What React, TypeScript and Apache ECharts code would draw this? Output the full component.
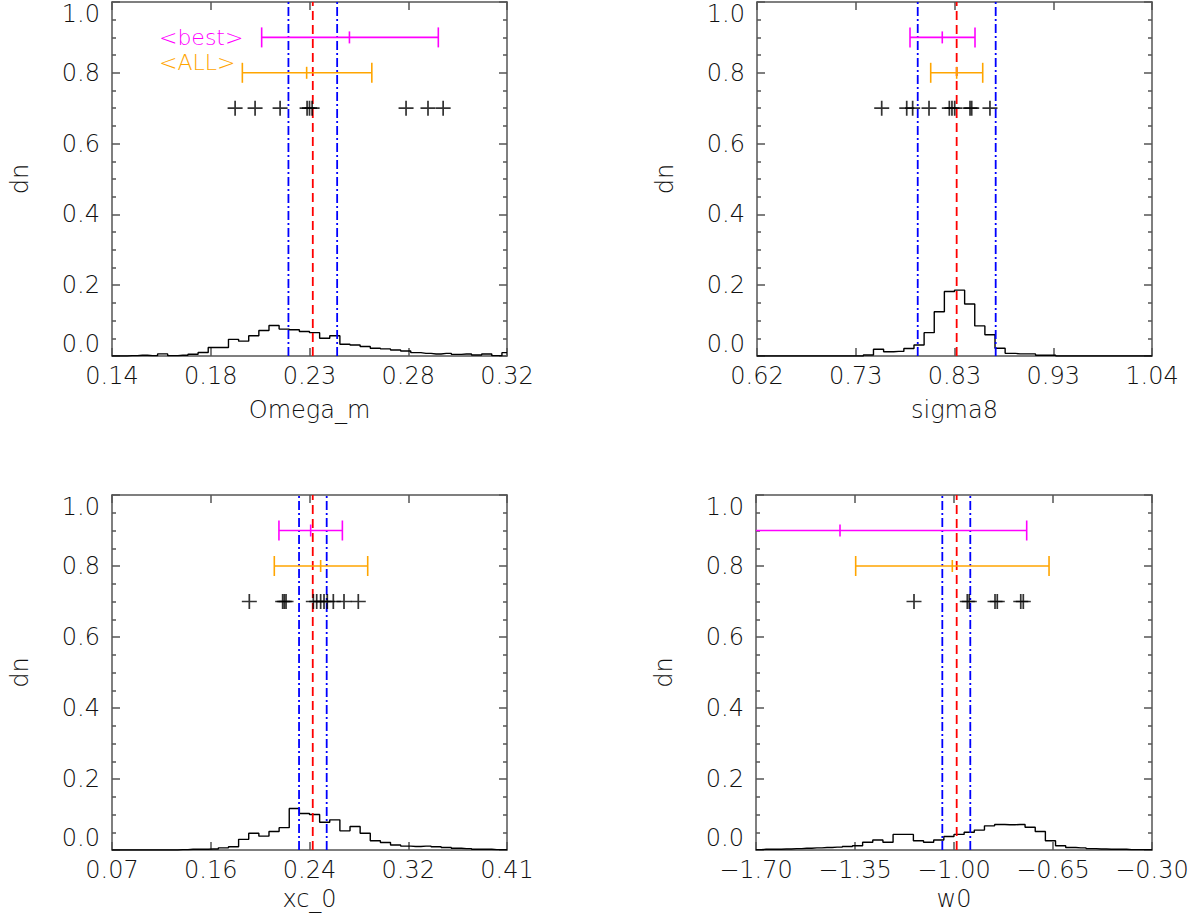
// React and related imports
import { useEffect, useRef } from "react";
// third-party libraries
import * as echarts from "echarts";

// axis ranges and tick labels
const omegaRange = [0.14, 0.32];
const sigma8Range = [0.62, 1.04];
const xc0Range = [0.07, 0.41];
const w0Range = [-1.7, -0.3];

const omegaTicks = ["0.14", "0.18", "0.23", "0.28", "0.32"];
const sigma8Ticks = ["0.62", "0.73", "0.83", "0.93", "1.04"];
const xc0Ticks = ["0.07", "0.16", "0.24", "0.32", "0.41"];
const w0Ticks = ["\u22121.70", "\u22121.35", "\u22121.00", "\u22120.65", "\u22120.30"];

// histograms, 40 bins spread over each axis range
const omegaHist = [
  0, 0, 0.001, 0.002, 0.001, 0.006, 0.001, 0.002, 0.005, 0.01, 0.024, 0.024, 0.047, 0.042,
  0.057, 0.072, 0.086, 0.076, 0.074, 0.069, 0.066, 0.05, 0.057, 0.033, 0.031, 0.027, 0.022,
  0.02, 0.017, 0.014, 0.0094, 0.0075, 0.0056, 0.0075, 0.0047, 0.0056, 0.0028, 0.0056, 0.001,
  0.0094,
];
const sigma8Hist = [
  0, 0, 0, 0, 0, 0, 0, 0, 0, 0, 0, 0.003, 0.019, 0.012, 0.013, 0.021, 0.031, 0.066, 0.125,
  0.182, 0.186, 0.147, 0.085, 0.06, 0.022, 0.0075, 0.006, 0.006, 0.002, 0.002, 0, 0, 0, 0, 0,
  0, 0, 0, 0, 0,
];
const xc0Hist = [
  0, 0, 0, 0, 0, 0, 0, 0.001, 0.002, 0.002, 0.003, 0.006, 0.009, 0.03, 0.047, 0.039, 0.052,
  0.063, 0.117, 0.103, 0.1, 0.078, 0.085, 0.054, 0.066, 0.047, 0.026, 0.021, 0.014, 0.011,
  0.01, 0.011, 0.009, 0.007, 0.005, 0.004, 0.002, 0.002, 0.001, 0.001,
];
const w0Hist = [
  0.001, 0.002, 0.002, 0.003, 0.004, 0.005, 0.006, 0.007, 0.008, 0.01, 0.012, 0.022, 0.028,
  0.022, 0.044, 0.044, 0.026, 0.022, 0.028, 0.038, 0.044, 0.05, 0.056, 0.068, 0.072, 0.071,
  0.072, 0.064, 0.052, 0.026, 0.012, 0.007, 0.006, 0.004, 0.003, 0.002, 0.002, 0.001, 0.001,
  0.001,
];

// individual chains (+ markers at dn = 0.7)
const omegaPlus = [0.1961, 0.2052, 0.2166, 0.2289, 0.23, 0.2312, 0.274, 0.284, 0.2909];
const sigma8Plus = [0.7526, 0.7792, 0.7855, 0.8029, 0.8245, 0.8273, 0.8302, 0.8465, 0.8483, 0.8677];
const xc0Plus = [
  0.1882, 0.2169, 0.2183, 0.2198, 0.2433, 0.2462, 0.2496, 0.2525, 0.2553, 0.2605, 0.2697, 0.282,
];
const w0Plus = [-1.1414, -0.953, -0.946, -0.855, -0.847, -0.764, -0.755];

// error bars: low, mean, high
const omegaBest = [0.2082, 0.2482, 0.2887];
const omegaAll = [0.1994, 0.2287, 0.2584];
const sigma8Best = [0.7827, 0.817, 0.8518];
const sigma8All = [0.8047, 0.8323, 0.86];
const xc0Best = [0.2137, 0.241, 0.2683];
const xc0All = [0.2097, 0.2496, 0.2901];
const w0Best = [-2.063, -1.403, -0.743];
const w0All = [-1.3476, -1.006, -0.664];

// vertical lines: lower 1-sigma, mean, upper 1-sigma
const omegaLines = [0.2204, 0.2315, 0.2426];
const sigma8Lines = [0.7909, 0.8323, 0.8738];
const xc0Lines = [0.231, 0.2428, 0.2548];
const w0Lines = [-1.0413, -0.9905, -0.9424];

const legendLabels = ["<best>", "<ALL>"];

const FONT = '"DejaVu Sans", sans-serif';
const FRAME = "#555";
const MAGENTA = "#ff00ff";
const ORANGE = "#ffa500";
const PLUS = "path://M-0.8,-7H0.8V7H-0.8Z M-7,-0.8H7V0.8H-7Z";

const panels = [
  {
    name: "Omega_m", range: omegaRange, ticks: omegaTicks, hist: omegaHist, plus: omegaPlus,
    best: omegaBest, all: omegaAll, lines: omegaLines, nameGap: 42,
    grid: { left: 112, top: 2, width: 395, height: 354 },
  },
  {
    name: "sigma8", range: sigma8Range, ticks: sigma8Ticks, hist: sigma8Hist, plus: sigma8Plus,
    best: sigma8Best, all: sigma8All, lines: sigma8Lines, nameGap: 42,
    grid: { left: 757, top: 2, width: 395, height: 354 },
  },
  {
    name: "xc_0", range: xc0Range, ticks: xc0Ticks, hist: xc0Hist, plus: xc0Plus,
    best: xc0Best, all: xc0All, lines: xc0Lines, nameGap: 37,
    grid: { left: 112, top: 495, width: 395, height: 355 },
  },
  {
    name: "w0", range: w0Range, ticks: w0Ticks, hist: w0Hist, plus: w0Plus,
    best: w0Best, all: w0All, lines: w0Lines, nameGap: 37,
    grid: { left: 756, top: 495, width: 396, height: 355 },
  },
];

const textStyle = { fontFamily: FONT, fontSize: 24, fontWeight: 300 as const, color: "#111" };

const errorBarItem = (params: any, api: any) => {
  const y = api.value(3);
  const pLo = api.coord([api.value(0), y]);
  const pMid = api.coord([api.value(1), y]);
  const pHi = api.coord([api.value(2), y]);
  const cs = params.coordSys;
  const left = cs.x;
  const right = cs.x + cs.width;
  const clamp = (x: number) => Math.min(Math.max(x, left), right);
  const style = { stroke: api.visual("color"), lineWidth: 1.6 };
  const children: any[] = [
    { type: "line", shape: { x1: clamp(pLo[0]), y1: pLo[1], x2: clamp(pHi[0]), y2: pHi[1] }, style },
  ];
  [pLo, pHi].forEach((p) => {
    if (p[0] >= left && p[0] <= right) {
      children.push({ type: "line", shape: { x1: p[0], y1: p[1] - 10, x2: p[0], y2: p[1] + 10 }, style });
    }
  });
  children.push({ type: "line", shape: { x1: pMid[0], y1: pMid[1] - 6, x2: pMid[0], y2: pMid[1] + 6 }, style });
  return { type: "group", children };
};

const buildOption = (): echarts.EChartsOption => {
  const grid: any[] = [];
  const xAxis: any[] = [];
  const yAxis: any[] = [];
  const series: any[] = [];

  panels.forEach((p, i) => {
    const [lo, hi] = p.range;
    const tickValues = p.ticks.map((_, k) => lo + (k * (hi - lo)) / 4);
    const lineStyle = { color: FRAME, width: 1.5 };
    grid.push(p.grid);

    const xBase = {
      type: "value", gridIndex: i, min: lo, max: hi,
      axisLine: { show: true, onZero: false, lineStyle },
      axisTick: { show: true, inside: true, length: 8, customValues: tickValues, lineStyle },
      splitLine: { show: false },
    };
    xAxis.push({
      ...xBase,
      position: "bottom",
      name: p.name,
      nameLocation: "middle",
      nameGap: p.nameGap,
      nameTextStyle: textStyle,
      axisLabel: {
        ...textStyle,
        margin: 8,
        customValues: tickValues,
        formatter: (v: number) => p.ticks[Math.round(((v - lo) / (hi - lo)) * 4)] ?? "",
      },
    });
    xAxis.push({ ...xBase, position: "top", axisLabel: { show: false } });

    const yBase = {
      type: "value", gridIndex: i, min: 0, max: 1, interval: 0.2,
      axisLine: { show: true, onZero: false, lineStyle },
      axisTick: { show: true, inside: true, length: 8, lineStyle },
      minorTick: { show: true, splitNumber: 4, length: 4, lineStyle },
      splitLine: { show: false },
    };
    yAxis.push({
      ...yBase,
      position: "left",
      name: "dn",
      nameLocation: "middle",
      nameGap: 80,
      nameTextStyle: textStyle,
      axisLabel: {
        ...textStyle,
        margin: 12,
        formatter: (v: number) => v.toFixed(1),
        verticalAlignMinLabel: "bottom",
        verticalAlignMaxLabel: "top",
      },
    });
    yAxis.push({ ...yBase, position: "right", axisLabel: { show: false } });

    const xi = 2 * i;
    const yi = 2 * i;

    series.push({
      type: "line", xAxisIndex: xi, yAxisIndex: yi, step: "middle", symbol: "none",
      lineStyle: { color: "#000", width: 1.4 },
      data: p.hist.map((v, k) => [lo + (k * (hi - lo)) / (p.hist.length - 1), v]),
      z: 3,
    });

    p.lines.forEach((x, k) => {
      const red = k === 1;
      series.push({
        type: "line", xAxisIndex: xi, yAxisIndex: yi, symbol: "none",
        lineStyle: { color: red ? "#ff0000" : "#0000ff", width: 1.8, type: red ? [9, 5] : [9, 3, 2, 3] },
        data: [[x, 0], [x, 1]],
        z: 4,
      });
    });

    [
      { bar: p.best, y: 0.9, color: MAGENTA },
      { bar: p.all, y: 0.8, color: ORANGE },
    ].forEach(({ bar, y, color }) => {
      series.push({
        type: "custom", xAxisIndex: xi, yAxisIndex: yi,
        itemStyle: { color },
        encode: { x: [0, 1, 2], y: 3 },
        renderItem: errorBarItem,
        data: [[bar[0], bar[1], bar[2], y]],
        z: 5,
      });
    });

    series.push({
      type: "scatter", xAxisIndex: xi, yAxisIndex: yi,
      symbol: PLUS, symbolSize: 15,
      itemStyle: { color: "#000" },
      data: p.plus.map((x) => [x, 0.7]),
      z: 6,
    });

    if (i === 0) {
      series.push({
        type: "custom", xAxisIndex: xi, yAxisIndex: yi,
        renderItem: (_params: any, api: any) => {
          const k = api.value(2);
          const pt = api.coord([api.value(0), api.value(1)]);
          return {
            type: "text",
            x: pt[0],
            y: pt[1],
            style: {
              text: legendLabels[k],
              fill: k === 0 ? MAGENTA : ORANGE,
              fontFamily: FONT,
              fontSize: 22,
              fontWeight: 300,
              align: "left",
              verticalAlign: "middle",
            },
          };
        },
        data: [
          [0.1614, 0.9, 0],
          [0.1614, 0.83, 1],
        ],
        z: 7,
      });
    }
  });

  return { animation: false, grid, xAxis, yAxis, series };
};

const App = () => {
  const chartRef = useRef<HTMLDivElement>(null);

  useEffect(() => {
    if (!chartRef.current) return;
    const chart = echarts.init(chartRef.current, undefined, { renderer: "svg" });
    chart.setOption(buildOption());
    return () => {
      chart.dispose();
    };
  }, []);

  return (
    <div
      ref={chartRef}
      style={{ position: "fixed", left: 0, top: 0, width: 1200, height: 917, background: "#fff" }}
    />
  );
};

export default App;
